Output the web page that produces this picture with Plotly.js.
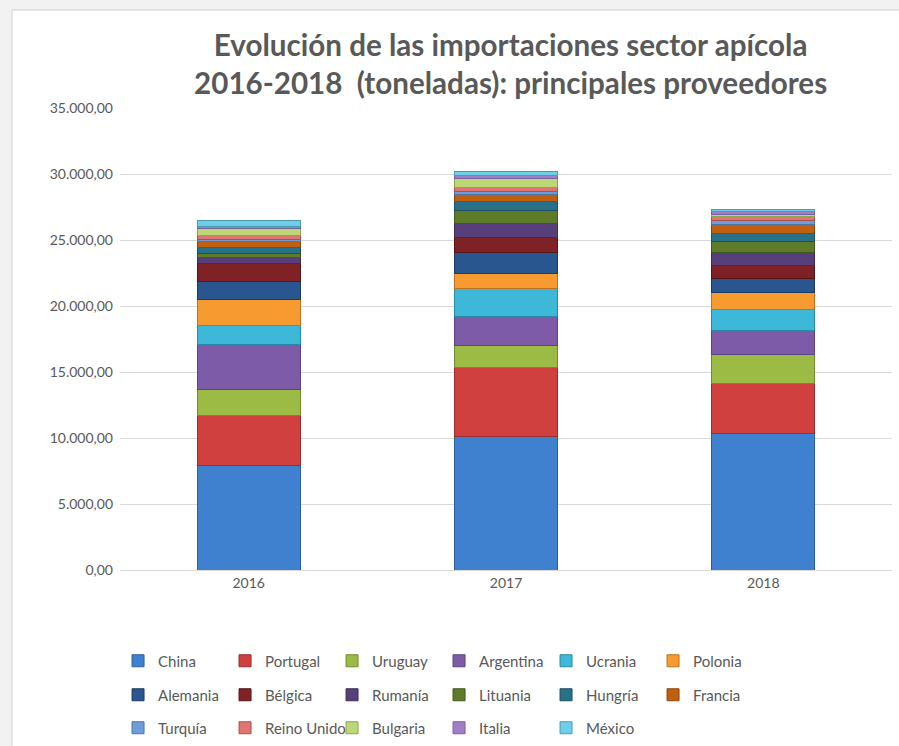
<!DOCTYPE html>
<html>
<head>
<meta charset="utf-8">
<script src="https://cdn.plot.ly/plotly-3.0.1.min.js"></script>
<style>html,body{margin:0;padding:0;background:#fff;}#chart{width:899px;height:746px;}</style>
</head>
<body>
<div id="chart"></div>
<script>
const years = ['2016', '2017', '2018'];
const countries = ['China','Portugal','Uruguay','Argentina','Ucrania','Polonia',
  'Alemania','Bélgica','Rumanía','Lituania','Hungría','Francia',
  'Turquía','Reino Unido','Bulgaria','Italia','México'];
const China      = [7900, 10100, 10350];
const Portugal   = [3800, 5250, 3790];
const Uruguay    = [1950, 1690, 2200];
const Argentina  = [3450, 2140, 1840];
const Ucrania    = [1450, 2170, 1520];
const Polonia    = [1950, 1120, 1300];
const Alemania   = [1350, 1560, 1100];
const Belgica    = [1400, 1160, 1000];
const Rumania    = [400, 1070, 940];
const Lituania   = [330, 950, 830];
const Hungria    = [420, 680, 630];
const Francia    = [480, 560, 640];
const Turquia    = [180, 200, 360];
const ReinoUnido = [280, 330, 270];
const Bulgaria   = [560, 680, 200];
const Italia     = [150, 250, 180];
const Mexico     = [400, 280, 180];
const seriesValues = [China, Portugal, Uruguay, Argentina, Ucrania, Polonia,
  Alemania, Belgica, Rumania, Lituania, Hungria, Francia,
  Turquia, ReinoUnido, Bulgaria, Italia, Mexico];
const colors = ['#3F80CF','#D0403E','#9BBB45','#7E5BA8','#3DB8D8','#F79A30',
  '#2A568F','#7F2226','#563F7A','#5E7B2A','#287189','#C0600F',
  '#6E9CD8','#E07572','#BBD874','#A07FC8','#6ECFE8'];
const lines = ['#2C5F9E','#992E2C','#718A30','#5C4280','#2A8AA3','#C0701E',
  '#1C3B63','#561618','#3D2C58','#42571D','#1B4F61','#8C460A',
  '#4F73A3','#A8524F','#8CA553','#7860A0','#4E9BB0'];
const legendNames = ['legend','legend2','legend3'];

const traces = countries.map((c, i) => ({
  type: 'bar',
  name: c,
  x: years,
  y: seriesValues[i],
  marker: {color: colors[i], line: {color: lines[i], width: 1}},
  legend: legendNames[Math.floor(i / 6)],
  hoverinfo: 'name+y'
}));

const font = 'Lato, "Open Sans", "Liberation Sans", sans-serif';
const legendBase = {
  orientation: 'h', xref: 'container', yref: 'container',
  x: 0.1313, xanchor: 'left', yanchor: 'middle',
  entrywidth: 62, entrywidthmode: 'pixels',
  font: {family: font, size: 15, color: '#595959'},
  bgcolor: 'rgba(0,0,0,0)', traceorder: 'normal', itemclick: false
};

const layout = {
  width: 899, height: 746,
  margin: {l: 120, r: 7, t: 108, b: 176},
  paper_bgcolor: '#f2f2f2',
  plot_bgcolor: 'rgba(0,0,0,0)',
  barmode: 'stack',
  bargap: 0.6,
  separators: ',.',
  title: {
    text: 'Evolución de las importaciones sector apícola<br>2016-2018 \u00a0(toneladas): principales proveedores',
    font: {family: font, size: 29.6, color: '#595959', weight: 'bold'},
    xref: 'container', x: 0.568, xanchor: 'center',
    yref: 'container', y: 0.925, yanchor: 'top'
  },
  xaxis: {
    type: 'category',
    range: [-0.5, 2.5],
    showgrid: false,
    showline: true, linecolor: '#d9d9d9', linewidth: 1,
    ticks: '',
    tickfont: {family: font, size: 14, color: '#595959'},
    fixedrange: true
  },
  yaxis: {
    range: [0, 35000],
    dtick: 5000,
    tickformat: ',.2f',
    showgrid: true, gridcolor: '#d9d9d9', gridwidth: 1,
    zeroline: false, showline: false,
    ticks: '',
    ticklabelstandoff: 6,
    tickfont: {family: font, size: 14, color: '#595959'},
    fixedrange: true
  },
  legend: Object.assign({}, legendBase, {y: 1 - 661/746}),
  legend2: Object.assign({}, legendBase, {y: 1 - 695/746}),
  legend3: Object.assign({}, legendBase, {y: 1 - 728/746}),
  shapes: [{
    type: 'rect', layer: 'below',
    xref: 'paper', yref: 'paper',
    x0: (12 - 120) / 772, x1: 1.2,
    y0: -0.5, y1: (570 - 10) / 462,
    fillcolor: '#ffffff',
    line: {color: '#d0d0d0', width: 1}
  }]
};

Plotly.newPlot('chart', traces, layout, {displayModeBar: false, staticPlot: true});
</script>
</body>
</html>
